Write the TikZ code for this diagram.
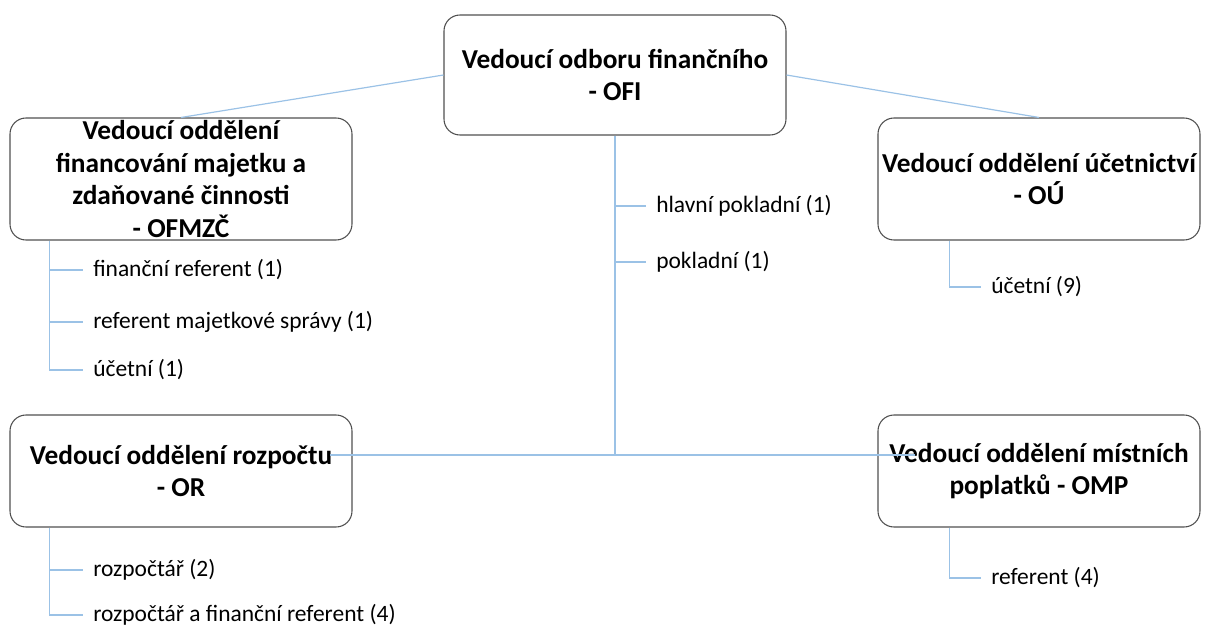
\documentclass[tikz,border=0pt]{standalone}
\usepackage{fontspec}
\setmainfont{Carlito}
\definecolor{linkblue}{RGB}{155,194,230}
\definecolor{boxline}{RGB}{80,80,80}
\begin{document}
\begin{tikzpicture}[x=0.75pt,y=-0.75pt,
  unitbox/.style={draw=boxline, rounded corners=12pt, line width=0.8pt,
    align=center, inner sep=0pt,
    font=\bfseries\fontsize{20.5}{24.5}\selectfont},
  link/.style={draw=linkblue, line width=0.9pt},
  staff/.style={anchor=west, inner sep=0pt, font=\fontsize{17.6}{20}\selectfont}]
\useasboundingbox (0,0) rectangle (1208,626);

% department heads
\node[unitbox, minimum width=256.5pt, minimum height=90pt] (ofi) at (615,75)
  {Vedoucí odboru finančního\\- OFI};
\node[unitbox, minimum width=256.5pt, minimum height=91.5pt] (fin) at (181,179)
  {Vedoucí oddělení\\financování majetku a\\zdaňované činnosti\\- OFMZČ};
\node[unitbox, minimum width=241.5pt, minimum height=91.5pt] (ou) at (1039,179)
  {Vedoucí oddělení účetnictví\\- OÚ};
\node[unitbox, minimum width=256.5pt, minimum height=84pt] (or) at (181,471)
  {Vedoucí oddělení rozpočtu\\- OR};
\node[unitbox, minimum width=241.5pt, minimum height=84pt] (omp) at (1039,471)
  {Vedoucí oddělení místních\\poplatků - OMP};

% staff
\node[staff] (hp) at (656,206) {hlavní pokladní (1)};
\node[staff] (pk) at (656,262) {pokladní (1)};
\node[staff] (f1) at (93,270) {finanční referent (1)};
\node[staff] (f2) at (93,322) {referent majetkové správy (1)};
\node[staff] (f3) at (93,370) {účetní (1)};
\node[staff] (u9) at (991,287) {účetní (9)};
\node[staff] (r1) at (93,570) {rozpočtář (2)};
\node[staff] (r2) at (93,615) {rozpočtář a finanční referent (4)};
\node[staff] (rf) at (991,578) {referent (4)};

% junction points of the central trunk
\coordinate (jn) at (615,455);
\coordinate (hl) at (330,455);
\coordinate (hr) at (915,455);

% head-to-head connectors
\draw[link] (ofi.west) -- (fin.north);
\draw[link] (ofi.east) -- (ou.north);
\draw[link] (ofi.south) -- (jn);
\draw[link] (hl) -- (hr);

% trunk ticks
\draw[link] (ofi.south |- hp.west) -- ([xshift=-7.5pt]hp.west);
\draw[link] (ofi.south |- pk.west) -- ([xshift=-7.5pt]pk.west);

% OFMZČ staff
\draw[link] ([xshift=30pt]fin.south west) |- ([xshift=-7.5pt]f3.west);
\draw[link] ([xshift=30pt]fin.south west |- f1.west) -- ([xshift=-7.5pt]f1.west);
\draw[link] ([xshift=30pt]fin.south west |- f2.west) -- ([xshift=-7.5pt]f2.west);

% OÚ staff
\draw[link] ([xshift=54pt]ou.south west) |- ([xshift=-7.5pt]u9.west);

% OR staff
\draw[link] ([xshift=30pt]or.south west) |- ([xshift=-7.5pt]r2.west);
\draw[link] ([xshift=30pt]or.south west |- r1.west) -- ([xshift=-7.5pt]r1.west);

% OMP staff
\draw[link] ([xshift=54pt]omp.south west) |- ([xshift=-7.5pt]rf.west);
\end{tikzpicture}
\end{document}
